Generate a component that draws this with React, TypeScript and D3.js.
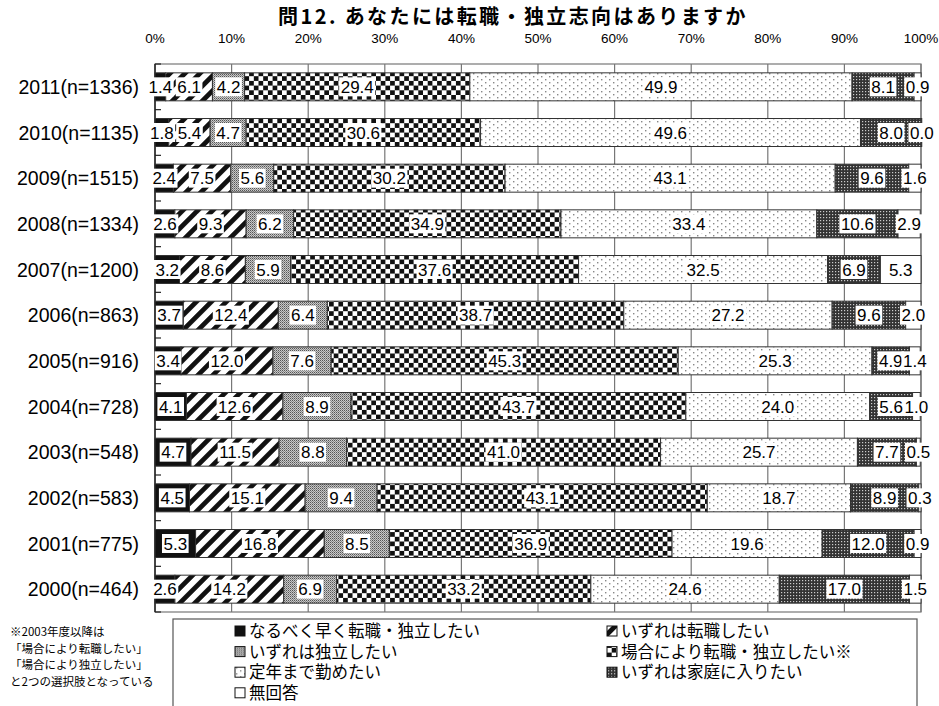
import * as d3 from 'd3';
import React, { useEffect, useRef } from 'react';

// categories (newest first, as in the survey sheet)
const years = [
  '2011(n=1336)', '2010(n=1135)', '2009(n=1515)', '2008(n=1334)',
  '2007(n=1200)', '2006(n=863)', '2005(n=916)', '2004(n=728)',
  '2003(n=548)', '2002(n=583)', '2001(n=775)', '2000(n=464)'
];

const seriesNames = [
  'なるべく早く転職・独立したい',
  'いずれは転職したい',
  'いずれは独立したい',
  '場合により転職・独立したい※',
  '定年まで勤めたい',
  'いずれは家庭に入りたい',
  '無回答'
];

// values per series, same order as years
const asap      = [1.4, 1.8, 2.4, 2.6, 3.2, 3.7, 3.4, 4.1, 4.7, 4.5, 5.3, 2.6];
const changeJob = [6.1, 5.4, 7.5, 9.3, 8.6, 12.4, 12.0, 12.6, 11.5, 15.1, 16.8, 14.2];
const independ  = [4.2, 4.7, 5.6, 6.2, 5.9, 6.4, 7.6, 8.9, 8.8, 9.4, 8.5, 6.9];
const depends   = [29.4, 30.6, 30.2, 34.9, 37.6, 38.7, 45.3, 43.7, 41.0, 43.1, 36.9, 33.2];
const untilRet  = [49.9, 49.6, 43.1, 33.4, 32.5, 27.2, 25.3, 24.0, 25.7, 18.7, 19.6, 24.6];
const homeLater = [8.1, 8.0, 9.6, 10.6, 6.9, 9.6, 4.9, 5.6, 7.7, 8.9, 12.0, 17.0];
const noAnswer  = [0.9, 0.0, 1.6, 2.9, 5.3, 2.0, 1.4, 1.0, 0.5, 0.3, 0.9, 1.5];

const noteLines = [
  '※2003年度以降は',
  '「場合により転職したい」',
  '「場合により独立したい」',
  'と2つの選択肢となっている'
];

const tickValues = [0, 10, 20, 30, 40, 50, 60, 70, 80, 90, 100];

const numFont = '"Liberation Sans", sans-serif';
const jpFont = '"Noto Sans CJK JP", sans-serif';

function App() {
  const ref = useRef(null);

  useEffect(() => {
    const svg = d3.select(ref.current);
    svg.selectAll('*').remove();

    const allSeries = [asap, changeJob, independ, depends, untilRet, homeLater, noAnswer];
    const keys = seriesNames.map((d, i) => 's' + i);
    const rows = years.map((y, i) => {
      const r = { year: y };
      keys.forEach((k, j) => { r[k] = allSeries[j][i]; });
      return r;
    });
    const stacked = d3.stack().keys(keys)(rows);

    const x = d3.scaleLinear().domain([0, 100]).range([155, 921]);
    const y = d3.scaleBand().domain(years).range([64, 612])
      .paddingInner(0.387).paddingOuter(0.1935);

    // patterns
    const defs = svg.append('defs');

    const p1 = defs.append('pattern').attr('id', 'pat1').attr('patternUnits', 'userSpaceOnUse')
      .attr('width', 6).attr('height', 6);
    p1.append('rect').attr('width', 6).attr('height', 6).attr('fill', '#111');

    const p2 = defs.append('pattern').attr('id', 'pat2').attr('patternUnits', 'userSpaceOnUse')
      .attr('width', 10.6).attr('height', 10).attr('patternTransform', 'rotate(45)');
    p2.append('rect').attr('width', 10.6).attr('height', 10).attr('fill', '#fff');
    p2.append('rect').attr('width', 4.8).attr('height', 10).attr('fill', '#111');

    const p3 = defs.append('pattern').attr('id', 'pat3').attr('patternUnits', 'userSpaceOnUse')
      .attr('width', 2).attr('height', 2);
    p3.append('rect').attr('width', 2).attr('height', 2).attr('fill', '#c8c8c8');
    p3.append('rect').attr('width', 1).attr('height', 1).attr('fill', '#555');
    p3.append('rect').attr('x', 1).attr('y', 1).attr('width', 1).attr('height', 1).attr('fill', '#888');

    const p4 = defs.append('pattern').attr('id', 'pat4').attr('patternUnits', 'userSpaceOnUse')
      .attr('width', 9.4).attr('height', 9.4).attr('y', 1);
    p4.append('rect').attr('width', 9.4).attr('height', 9.4).attr('fill', '#fff');
    p4.append('rect').attr('width', 4.7).attr('height', 4.7).attr('fill', '#111');
    p4.append('rect').attr('x', 4.7).attr('y', 4.7).attr('width', 4.7).attr('height', 4.7).attr('fill', '#111');

    const p5 = defs.append('pattern').attr('id', 'pat5').attr('patternUnits', 'userSpaceOnUse')
      .attr('width', 8).attr('height', 6);
    p5.append('rect').attr('width', 8).attr('height', 6).attr('fill', '#fff');
    p5.append('rect').attr('x', 1).attr('y', 1).attr('width', 1.4).attr('height', 1.4).attr('fill', '#888');
    p5.append('rect').attr('x', 5).attr('y', 4).attr('width', 1.4).attr('height', 1.4).attr('fill', '#888');

    const p6 = defs.append('pattern').attr('id', 'pat6').attr('patternUnits', 'userSpaceOnUse')
      .attr('width', 3).attr('height', 3);
    p6.append('rect').attr('width', 3).attr('height', 3).attr('fill', '#333');
    p6.append('rect').attr('x', 1).attr('y', 1).attr('width', 1.2).attr('height', 1.2).attr('fill', '#ccc');

    const fills = ['url(#pat1)', 'url(#pat2)', 'url(#pat3)', 'url(#pat4)', 'url(#pat5)', 'url(#pat6)', '#fff'];

    // title
    svg.append('text')
      .attr('x', 513).attr('y', 24)
      .attr('text-anchor', 'middle')
      .style('font-family', jpFont).style('font-weight', 'bold').style('font-size', '20px')
      .style('letter-spacing', '2.4px')
      .text('問12. あなたには転職・独立志向はありますか');

    // percentage labels on top
    svg.append('g').selectAll('text')
      .data(tickValues)
      .enter().append('text')
      .attr('x', d => x(d)).attr('y', 43)
      .attr('text-anchor', 'middle')
      .style('font-family', numFont).style('font-size', '13.5px')
      .text(d => d + '%');

    // frame and grid
    svg.append('rect')
      .attr('x', x(0)).attr('y', y.range()[0])
      .attr('width', x(100) - x(0)).attr('height', y.range()[1] - y.range()[0])
      .attr('fill', '#fff').attr('stroke', '#777').attr('stroke-width', 1.2);

    svg.append('g').selectAll('line')
      .data(tickValues.slice(1))
      .enter().append('line')
      .attr('x1', d => x(d)).attr('x2', d => x(d))
      .attr('y1', y.range()[0]).attr('y2', y.range()[1])
      .attr('stroke', '#777').attr('stroke-width', 1.2);

    // left axis with inward ticks at band boundaries
    const bounds = years.map((d, i) => y.range()[0] + i * y.step()).concat([y.range()[1]]);
    svg.append('g').selectAll('line')
      .data(bounds)
      .enter().append('line')
      .attr('x1', x(0)).attr('x2', x(0) + 6)
      .attr('y1', d => d).attr('y2', d => d)
      .attr('stroke', '#222').attr('stroke-width', 1.2);
    svg.append('line')
      .attr('x1', x(0)).attr('x2', x(0))
      .attr('y1', y.range()[0]).attr('y2', y.range()[1])
      .attr('stroke', '#222').attr('stroke-width', 1.5);

    // category labels
    svg.append('g').selectAll('text')
      .data(years)
      .enter().append('text')
      .attr('x', 139).attr('y', d => y(d) + y.bandwidth() / 2)
      .attr('dy', '0.36em')
      .attr('text-anchor', 'end')
      .style('font-family', numFont).style('font-size', '19.5px')
      .text(d => d);

    // bars
    const layer = svg.append('g').selectAll('g')
      .data(stacked)
      .enter().append('g')
      .attr('fill', (d, i) => fills[i]);

    layer.selectAll('rect')
      .data(d => d)
      .enter().append('rect')
      .attr('x', d => x(d[0]))
      .attr('y', d => y(d.data.year))
      .attr('width', d => x(d[1]) - x(d[0]))
      .attr('height', y.bandwidth())
      .attr('stroke', '#333').attr('stroke-width', 1);

    // value labels in white boxes
    const lab = svg.append('g');
    stacked.forEach(s => {
      s.forEach(d => {
        const g = lab.append('g')
          .attr('transform', 'translate(' + x((d[0] + d[1]) / 2) + ',' + (y(d.data.year) + y.bandwidth() / 2) + ')');
        const box = g.append('rect').attr('fill', '#fff');
        const t = g.append('text')
          .attr('text-anchor', 'middle').attr('dy', '0.36em')
          .style('font-family', numFont).style('font-size', '17px')
          .text(d3.format('.1f')(d[1] - d[0]));
        const w = t.node().getComputedTextLength();
        box.attr('x', -w / 2 - 1.5).attr('y', -9.5).attr('width', w + 3).attr('height', 19);
      });
    });

    // legend
    svg.append('rect')
      .attr('x', 173).attr('y', 619).attr('width', 744).attr('height', 100)
      .attr('fill', '#fff').attr('stroke', '#555').attr('stroke-width', 1.2);

    const legend = svg.append('g').selectAll('g')
      .data(seriesNames)
      .enter().append('g')
      .attr('transform', (d, i) => {
        var horz = i % 2 === 0 ? 235 : 607;
        var vert = 631 + Math.floor(i / 2) * 20.6;
        return 'translate(' + horz + ',' + vert + ')';
      });

    legend.append('rect')
      .attr('x', 0).attr('y', -5).attr('width', 10).attr('height', 10)
      .attr('fill', (d, i) => fills[i])
      .attr('stroke', '#111').attr('stroke-width', 1);

    legend.append('text')
      .attr('x', 14).attr('dy', '0.36em')
      .style('font-family', jpFont).style('font-size', '16.5px')
      .text(d => d);

    // footnote
    svg.append('g').selectAll('text')
      .data(noteLines)
      .enter().append('text')
      .attr('x', 10).attr('y', (d, i) => 636 + i * 16.5)
      .style('font-family', jpFont).style('font-size', '11.5px')
      .text(d => d);
  }, []);

  return (
    <div>
      <svg ref={ref} width={939} height={706}
        style={{ position: 'absolute', left: 0, top: 0, background: '#fff' }}>
      </svg>
    </div>
  );
}

export default App;
